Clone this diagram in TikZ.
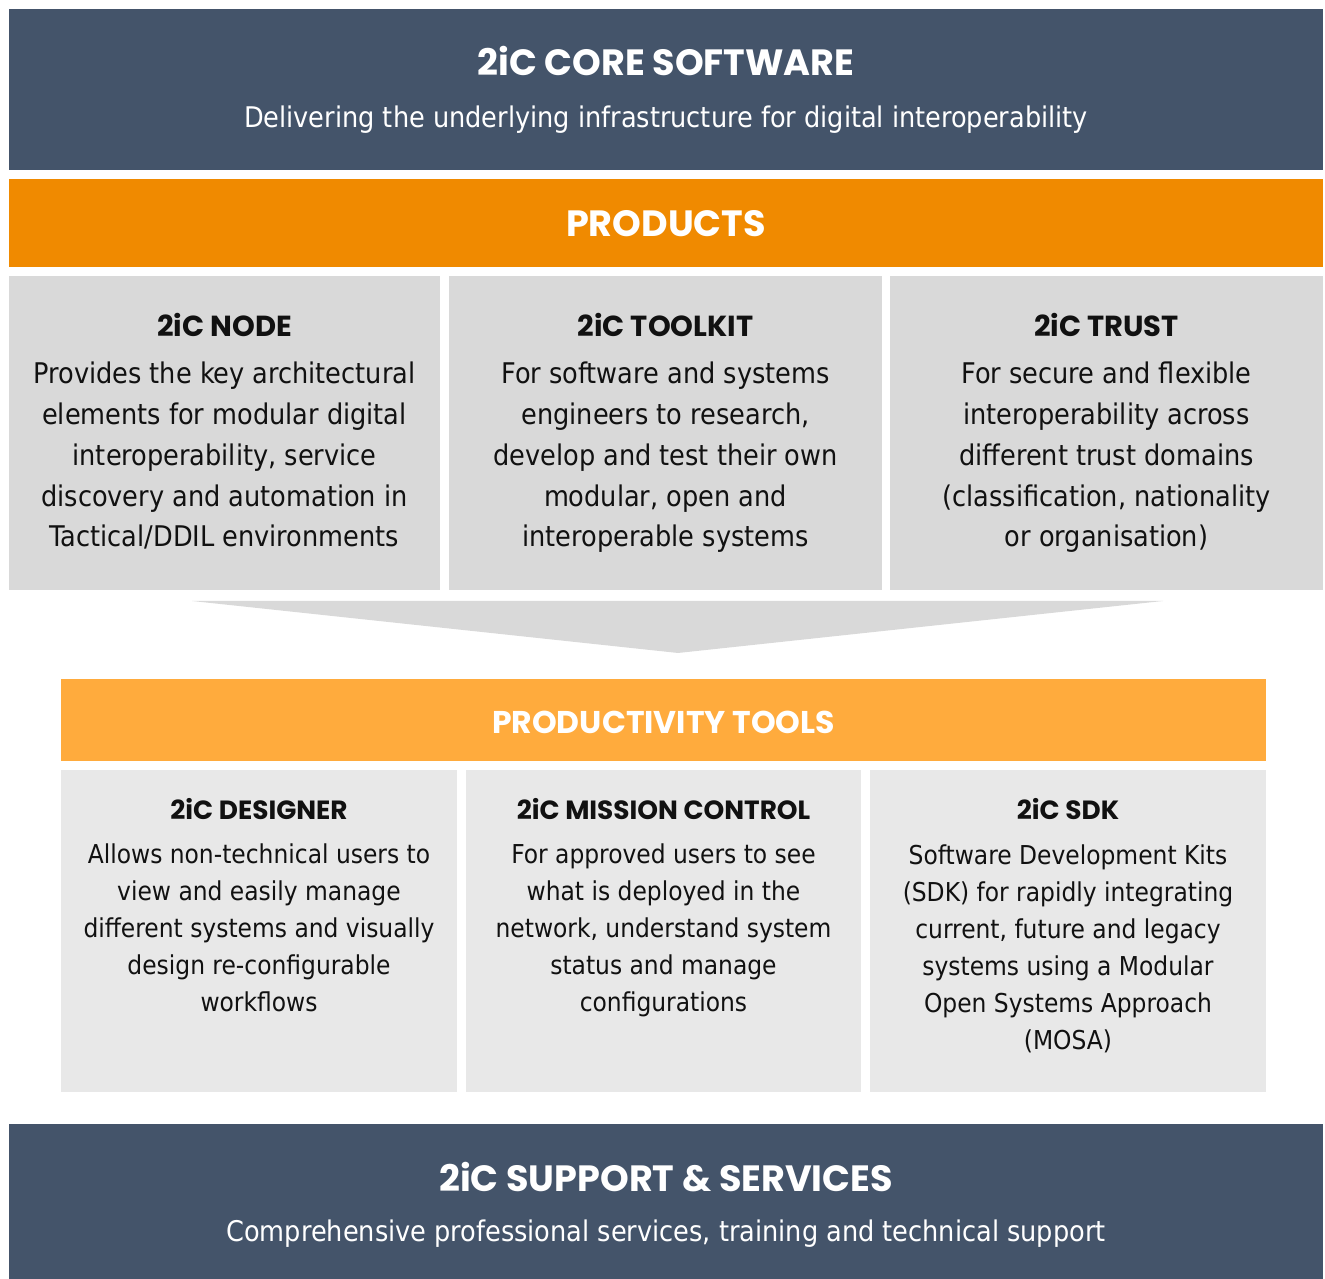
\documentclass[tikz,border=0pt]{standalone}
\usepackage{fontspec}
\setmainfont{DejaVu Sans Condensed}
\newfontfamily\headfont{Poppins}
\usetikzlibrary{positioning}

\definecolor{slate}{HTML}{44546A}
\definecolor{prodorange}{HTML}{F08A00}
\definecolor{toolorange}{HTML}{FFAB3D}
\definecolor{prodgray}{HTML}{D9D9D9}
\definecolor{toolgray}{HTML}{E8E8E8}
\definecolor{ink}{HTML}{111111}

\tikzset{
  bandtitle/.style={font=\headfont\bfseries\fontsize{20.8}{24}\selectfont,text=white,inner sep=0pt},
  bandsub/.style={font=\fontsize{16.2}{19}\selectfont,text=white,inner sep=0pt},
  prodhead/.style={font=\headfont\bfseries\fontsize{16.5}{19}\selectfont,text=ink,inner sep=0pt,anchor=base},
  prodtext/.style={font=\fontsize{16.2}{23.2}\selectfont,text=ink,align=center,inner sep=0pt,anchor=base},
  toolhead/.style={font=\headfont\bfseries\fontsize{15}{18}\selectfont,text=ink,inner sep=0pt,anchor=base},
  tooltext/.style={font=\fontsize{14.8}{21.1}\selectfont,text=ink,align=center,inner sep=0pt,anchor=base}
}

\begin{document}
\begin{tikzpicture}
\useasboundingbox (0,0) rectangle (26.5,25.58);
% bands
\fill[slate] (0.18,25.4) rectangle (26.46,22.18);
\fill[prodorange] (0.18,22.0) rectangle (26.46,20.24);
\fill[toolorange] (1.22,12.0) rectangle (25.32,10.36);
\fill[slate] (0.18,3.1) rectangle (26.46,0);
% product boxes
\fill[prodgray] (0.18,20.06) rectangle (8.8,13.78);
\fill[prodgray] (8.98,20.06) rectangle (17.64,13.78);
\fill[prodgray] (17.8,20.06) rectangle (26.46,13.78);
% funnel
\fill[prodgray] (3.84,13.56) -- (23.26,13.56) -- (13.56,12.52) -- cycle;
% tool boxes
\fill[toolgray] (1.22,10.18) rectangle (9.14,3.74);
\fill[toolgray] (9.32,10.18) rectangle (17.22,3.74);
\fill[toolgray] (17.4,10.18) rectangle (25.32,3.74);

\node[bandtitle] (core) at (13.32,24.36) {2iC CORE SOFTWARE};
\node[bandsub] (coresub) at (13.32,23.18) {Delivering the underlying infrastructure for digital interoperability};
\node[bandtitle] (products) at (13.32,21.1) {PRODUCTS};

% base of a multi-line node = last line
\node[prodhead] (nodehead) at (4.49,18.84) {2iC NODE};
\node[prodtext] (nodetext) at (4.49,14.64) {Provides the key architectural\\elements for modular digital\\interoperability, service\\discovery and automation in\\Tactical/DDIL environments};
\node[prodhead] (toolkithead) at (13.31,18.84) {2iC TOOLKIT};
\node[prodtext] (toolkittext) at (13.31,14.64) {For software and systems\\engineers to research,\\develop and test their own\\modular, open and\\interoperable systems};
\node[prodhead] (trusthead) at (22.13,18.84) {2iC TRUST};
\node[prodtext] (trusttext) at (22.13,14.64) {For secure and flexible\\interoperability across\\different trust domains\\(classification, nationality\\or organisation)};

\node[bandtitle,font=\headfont\bfseries\fontsize{17.9}{20}\selectfont] (tools) at (13.27,11.14) {PRODUCTIVITY TOOLS};

\node[toolhead] (designerhead) at (5.18,9.18) {2iC DESIGNER};
\node[tooltext] (designertext) at (5.18,5.34) {Allows non-technical users to\\view and easily manage\\different systems and visually\\design re-configurable\\workflows};
\node[toolhead] (missionhead) at (13.27,9.18) {2iC MISSION CONTROL};
\node[tooltext] (missiontext) at (13.27,5.34) {For approved users to see\\what is deployed in the\\network, understand system\\status and manage\\configurations};
\node[toolhead] (sdkhead) at (21.36,9.18) {2iC SDK};
\node[tooltext] (sdktext) at (21.36,4.59) {Software Development Kits\\(SDK) for rapidly integrating\\current, future and legacy\\systems using a Modular\\Open Systems Approach\\(MOSA)};

\node[bandtitle] (support) at (13.32,2.04) {2iC SUPPORT \& SERVICES};
\node[bandsub] (supportsub) at (13.32,0.90) {Comprehensive professional services, training and technical support};
\end{tikzpicture}
\end{document}
